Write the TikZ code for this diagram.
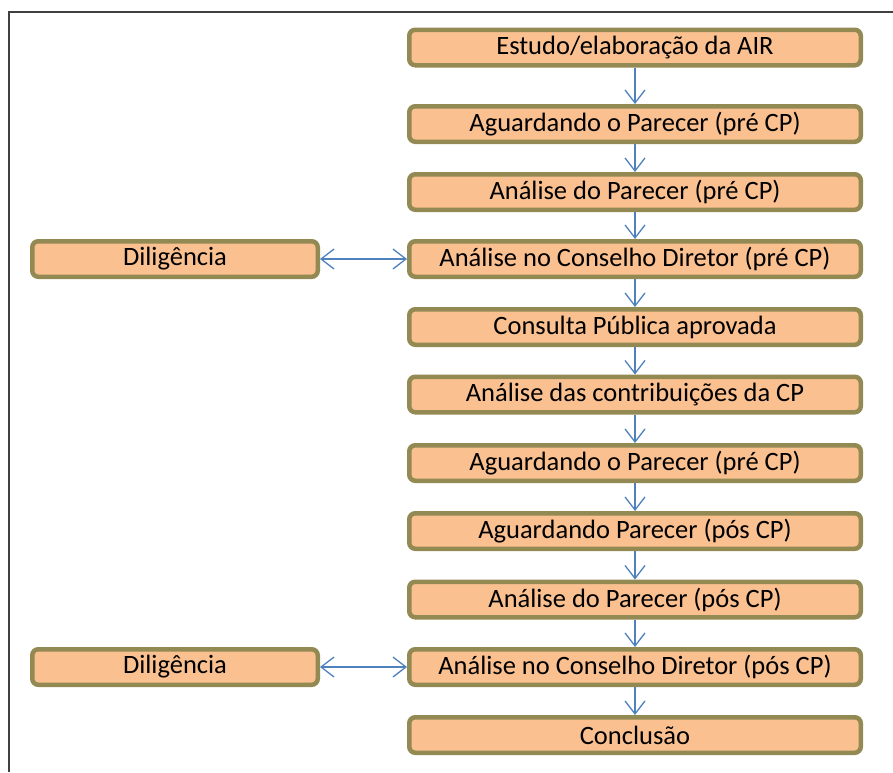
\documentclass[tikz,border=0pt]{standalone}
\usepackage{fontspec}
\setmainfont{Carlito}
\usetikzlibrary{arrows.meta}
\definecolor{boxfill}{HTML}{FAC090}
\definecolor{boxline}{HTML}{938953}
\definecolor{arr}{HTML}{4F81BD}
\tikzset{
  stepbox/.style={draw=boxline, fill=boxfill, line width=4.5pt, rounded corners=6pt,
    minimum width=451.5pt, minimum height=35.5pt, inner sep=0pt,
    font=\fontsize{26.5}{30}\selectfont, text=black},
  dilbox/.style={stepbox, minimum width=285.5pt},
  barb/.style={},
  flow/.style={draw=arr, line width=1.3pt, -{Straight Barb[length=13pt,width=20pt,line width=1.3pt]}},
  biflow/.style={draw=arr, line width=1.3pt, {Straight Barb[length=13pt,width=20pt,line width=1.3pt]}-{Straight Barb[length=13pt,width=20pt,line width=1.3pt]}}
}
\begin{document}
\begin{tikzpicture}[x=1pt,y=-1pt]
\useasboundingbox (0,0) rectangle (893,772);
\draw[line width=2pt, black!75] (9,772) -- (9,12) -- (893,12);
\node[stepbox] (b1) at (635,47.5) {Estudo/elaboração da AIR};
\node[stepbox] (b2) at (635,124) {Aguardando o Parecer (pré CP)};
\node[stepbox] (b3) at (635,192) {Análise do Parecer (pré CP)};
\node[stepbox] (b4) at (635,259) {Análise no Conselho Diretor (pré CP)};
\node[stepbox] (b5) at (635,327) {Consulta Pública aprovada};
\node[stepbox] (b6) at (635,394.5) {Análise das contribuições da CP};
\node[stepbox] (b7) at (635,463) {Aguardando o Parecer (pré CP)};
\node[stepbox] (b8) at (635,531) {Aguardando Parecer (pós CP)};
\node[stepbox] (b9) at (635,599.5) {Análise do Parecer (pós CP)};
\node[stepbox] (b10) at (635,667) {Análise no Conselho Diretor (pós CP)};
\node[stepbox] (b11) at (635,735) {Conclusão};
\node[dilbox] (d1) at (175,259) {Diligência};
\node[dilbox] (d2) at (175,667) {Diligência};
\foreach \a/\b in {b1/b2,b2/b3,b3/b4,b4/b5,b5/b6,b6/b7,b7/b8,b8/b9,b9/b10,b10/b11}
  \draw[flow] (\a.south) -- (\b.north);
\draw[biflow] (d1.east) -- (b4.west);
\draw[biflow] (d2.east) -- (b10.west);
\end{tikzpicture}
\end{document}
